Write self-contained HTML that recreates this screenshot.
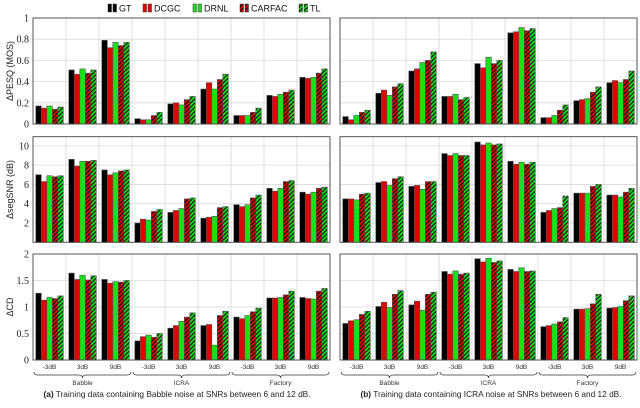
<!DOCTYPE html>
<html><head><meta charset="utf-8"><style>
body{margin:0;background:#fff;}
svg{display:block;font-family:"Liberation Sans",sans-serif;}
</style></head><body>
<svg id="chart" width="640" height="408" viewBox="0 0 640 408">
<defs>
<pattern id="hatchR" patternUnits="userSpaceOnUse" width="3" height="3" patternTransform="rotate(45)">
<rect width="3" height="3" fill="#e00000"/><rect width="1.2" height="3" fill="#111"/></pattern>
<pattern id="hatchG" patternUnits="userSpaceOnUse" width="3" height="3" patternTransform="rotate(45)">
<rect width="3" height="3" fill="#1adf1a"/><rect width="1.2" height="3" fill="#111"/></pattern>
</defs>
</svg>
<script>
const categories=["-3dB","3dB","9dB","-3dB","3dB","9dB","-3dB","3dB","9dB"];
const noiseGroups=["Babble","ICRA","Factory"];
const seriesNames=["GT","DCGC","DRNL","CARFAC","TL"];
// PESQ left
const pesqL_GT=[0.17,0.51,0.79,0.05,0.19,0.33,0.08,0.27,0.44];
const pesqL_DCGC=[0.15,0.47,0.72,0.04,0.20,0.39,0.08,0.26,0.43];
const pesqL_DRNL=[0.17,0.52,0.77,0.04,0.18,0.33,0.08,0.28,0.44];
const pesqL_CARFAC=[0.14,0.48,0.74,0.08,0.23,0.42,0.11,0.30,0.48];
const pesqL_TL=[0.16,0.51,0.77,0.11,0.26,0.47,0.15,0.32,0.52];
// PESQ right
const pesqR_GT=[0.07,0.29,0.50,0.26,0.57,0.86,0.06,0.22,0.39];
const pesqR_DCGC=[0.04,0.32,0.52,0.26,0.53,0.87,0.06,0.23,0.41];
const pesqR_DRNL=[0.08,0.27,0.58,0.28,0.63,0.91,0.08,0.24,0.39];
const pesqR_CARFAC=[0.11,0.35,0.60,0.23,0.57,0.88,0.13,0.30,0.42];
const pesqR_TL=[0.13,0.38,0.68,0.25,0.60,0.90,0.18,0.35,0.50];
// segSNR left
const snrL_GT=[7.0,8.6,7.5,2.0,3.1,2.5,3.9,5.6,5.2];
const snrL_DCGC=[6.3,7.9,7.0,2.4,3.3,2.6,3.7,5.3,5.0];
const snrL_DRNL=[6.9,8.4,7.2,2.3,3.5,2.7,3.9,5.6,5.2];
const snrL_CARFAC=[6.8,8.4,7.4,3.2,4.5,3.6,4.6,6.3,5.6];
const snrL_TL=[6.9,8.5,7.5,3.4,4.6,3.7,4.9,6.4,5.7];
// segSNR right
const snrR_GT=[4.5,6.2,5.8,9.2,10.4,8.4,3.1,5.1,4.9];
const snrR_DCGC=[4.5,6.3,5.9,9.0,10.1,8.1,3.3,5.1,4.9];
const snrR_DRNL=[4.4,5.9,5.5,9.2,10.3,8.3,3.5,5.1,4.7];
const snrR_CARFAC=[5.0,6.6,6.3,9.0,10.1,8.1,3.6,5.8,5.2];
const snrR_TL=[5.1,6.8,6.3,9.0,10.2,8.3,4.8,6.0,5.6];
// CD left
const cdL_GT=[1.26,1.64,1.52,0.36,0.60,0.65,0.81,1.17,1.18];
const cdL_DCGC=[1.13,1.52,1.45,0.44,0.65,0.67,0.78,1.17,1.16];
const cdL_DRNL=[1.18,1.60,1.48,0.47,0.73,0.28,0.84,1.18,1.15];
const cdL_CARFAC=[1.16,1.51,1.47,0.43,0.81,0.84,0.91,1.23,1.30];
const cdL_TL=[1.21,1.59,1.50,0.50,0.89,0.92,0.98,1.30,1.35];
// CD right
const cdR_GT=[0.69,1.01,1.04,1.67,1.91,1.71,0.63,0.96,0.98];
const cdR_DCGC=[0.74,1.09,1.11,1.62,1.85,1.67,0.65,0.96,0.99];
const cdR_DRNL=[0.76,0.99,0.94,1.68,1.92,1.74,0.68,0.97,1.01];
const cdR_CARFAC=[0.86,1.24,1.24,1.62,1.84,1.67,0.72,1.06,1.12];
const cdR_TL=[0.92,1.31,1.28,1.64,1.87,1.68,0.80,1.24,1.21];

const pesqTicks=[0,0.2,0.4,0.6,0.8,1];
const pesqTickLabels=["0","0.2","0.4","0.6","0.8","1"];
const snrTicks=[2,4,6,8,10];
const snrTickLabels=["2","4","6","8","10"];
const cdTicks=[0,0.5,1,1.5,2];
const cdTickLabels=["0","0.5","1","1.5","2"];

const NS="http://www.w3.org/2000/svg";
const svg=document.getElementById('chart');
function mk(tag,attrs,parent){const e=document.createElementNS(NS,tag);for(const k in attrs)e.setAttribute(k,attrs[k]);(parent||svg).appendChild(e);return e;}
const fills=["#000","#e00000","#1adf1a","url(#hatchR)","url(#hatchG)"];

function panel(px,top,bottom,maxV,ticks,tickLabels,series,showLabels,title,name){
  const W=297,gw=W/9;
  const y=v=>bottom-(v/maxV)*(bottom-top);
  const x=i=>px+i*gw;
  const g=mk('g',{});
  
  
  for(let i=1;i<9;i++){const l=mk('line',{x1:x(i),x2:x(i),y1:top,y2:bottom,stroke:'#d8d8d8','stroke-width':0.8},g);}
  ticks.forEach((t,k)=>{
    if(t>0&&t<maxV){mk('line',{x1:px,x2:px+W,y1:y(t),y2:y(t),stroke:'#d8d8d8','stroke-width':0.8},g);}
    if(showLabels){const tx=mk('text',{x:px-4,y:y(t)+3.5,'text-anchor':'end','font-size':10,'font-family':'"Liberation Serif",serif',fill:'#222'},g);tx.textContent=tickLabels[k];
      
      }
  });
  const bw=5.5;
  series.forEach((arr,s)=>{
    arr.forEach((v,i)=>{
      const bx=x(i)+2.8+s*bw;
      const r=mk('rect',{x:bx,y:y(v),width:bw,height:bottom-y(v),fill:fills[s],stroke:'#555','stroke-width':0.6},g);
      
      
    });
  });
  mk('rect',{x:px,y:top,width:W,height:bottom-top,fill:'none',stroke:'#444','stroke-width':0.9},g);
  if(title){const t=mk('text',{transform:`translate(13,${(top+bottom)/2}) rotate(-90)`,'text-anchor':'middle','font-size':9,fill:'#222'},g);t.textContent=title;
    
    }
}
const L=33,R=340;
panel(L,18,124,1,pesqTicks,pesqTickLabels,[pesqL_GT,pesqL_DCGC,pesqL_DRNL,pesqL_CARFAC,pesqL_TL],true,"\u0394PESQ (MOS)","pesq-panel-left");
panel(R,18,124,1,pesqTicks,pesqTickLabels,[pesqR_GT,pesqR_DCGC,pesqR_DRNL,pesqR_CARFAC,pesqR_TL],false,null,"pesq-panel-right");
panel(L,136.7,242.3,10.95,snrTicks,snrTickLabels,[snrL_GT,snrL_DCGC,snrL_DRNL,snrL_CARFAC,snrL_TL],true,"\u0394segSNR (dB)","segsnr-panel-left");
panel(R,136.7,242.3,10.95,snrTicks,snrTickLabels,[snrR_GT,snrR_DCGC,snrR_DRNL,snrR_CARFAC,snrR_TL],false,null,"segsnr-panel-right");
panel(L,254,360,2,cdTicks,cdTickLabels,[cdL_GT,cdL_DCGC,cdL_DRNL,cdL_CARFAC,cdL_TL],true,"\u0394CD","cd-panel-left");
panel(R,254,360,2,cdTicks,cdTickLabels,[cdR_GT,cdR_DCGC,cdR_DRNL,cdR_CARFAC,cdR_TL],false,null,"cd-panel-right");

// x labels and braces
[L,R].forEach(px=>{
  const gw=297/9;
  categories.forEach((c,i)=>{
    const t=mk('text',{x:px+i*gw+gw/2,y:369,'text-anchor':'middle','font-size':6.5,fill:'#333'});t.textContent=c;
    
    
  });
  noiseGroups.forEach((n,k)=>{
    const x0=px+k*99+1,x1=px+k*99+98,xm=(x0+x1)/2;
    mk('path',{d:`M${x0},372 Q${x0},375 ${x0+4},375 L${xm-4},375 Q${xm},375 ${xm},378 Q${xm},375 ${xm+4},375 L${x1-4},375 Q${x1},375 ${x1},372`,fill:'none',stroke:'#333','stroke-width':0.7});
    const t=mk('text',{x:xm,y:385,'text-anchor':'middle','font-size':6.5,fill:'#333'});t.textContent=n;
    
    
  });
});
const c1=mk('text',{x:177,y:397,'text-anchor':'middle','font-size':8.3,fill:'#222'});
c1.innerHTML='<tspan font-weight="bold">(a)</tspan> Training data containing Babble noise at SNRs between 6 and 12 dB.';


const c2=mk('text',{x:491,y:397,'text-anchor':'middle','font-size':8.3,fill:'#222'});
c2.innerHTML='<tspan font-weight="bold">(b)</tspan> Training data containing ICRA noise at SNRs between 6 and 12 dB.';



// legend
const legX=[108,143,193,240,299];
seriesNames.forEach((n,s)=>{
  const g=mk('g',{});
  
  
  mk('rect',{x:legX[s],y:4,width:3.5,height:8,fill:fills[s],stroke:'#333','stroke-width':0.5},g);
  mk('rect',{x:legX[s]+5,y:4,width:3.5,height:8,fill:fills[s],stroke:'#333','stroke-width':0.5},g);
  const t=mk('text',{x:legX[s]+11,y:11.5,'font-size':9,fill:'#111'},g);t.textContent=n;
});
</script>
</body></html>
